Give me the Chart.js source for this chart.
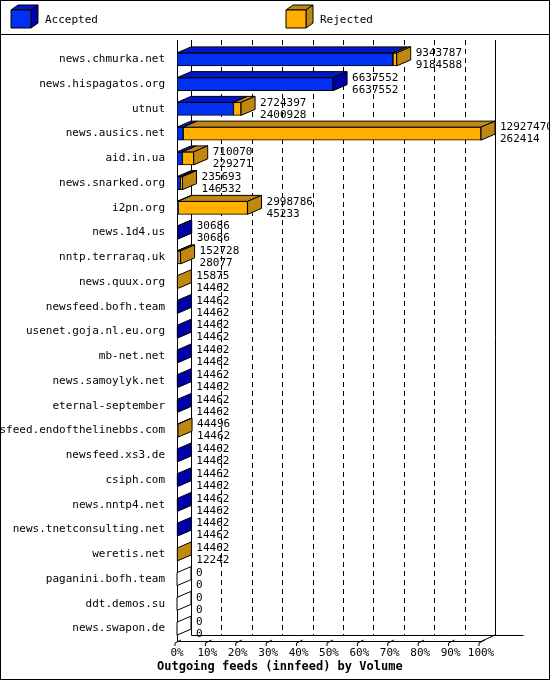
<!DOCTYPE html>
<html>
<head>
<meta charset="utf-8">
<script src="https://cdn.jsdelivr.net/npm/chart.js@4"></script>
<style>
  body { margin: 0; background: #fff; }
  canvas { display: block; }
</style>
</head>
<body>
<canvas id="feeds" width="550" height="680"></canvas>
<script>
// данные: получатели, предложено всего, принято
var Hosts = ['news.chmurka.net', 'news.hispagatos.org', 'utnut', 'news.ausics.net', 'aid.in.ua',
  'news.snarked.org', 'i2pn.org', 'news.1d4.us', 'nntp.terraraq.uk', 'news.quux.org',
  'newsfeed.bofh.team', 'usenet.goja.nl.eu.org', 'mb-net.net', 'news.samoylyk.net',
  'eternal-september', 'newsfeed.endofthelinebbs.com', 'newsfeed.xs3.de', 'csiph.com',
  'news.nntp4.net', 'news.tnetconsulting.net', 'weretis.net', 'paganini.bofh.team',
  'ddt.demos.su', 'news.swapon.de'];
var Offered = [9343787, 6637552, 2724397, 12927470, 710070, 235693, 2998786, 30686, 152728, 15875,
  14462, 14462, 14462, 14462, 14462, 44496, 14462, 14462, 14462, 14462, 14462, 0, 0, 0];
var Accepted = [9184588, 6637552, 2400928, 262414, 229271, 146532, 45233, 30686, 28077, 14462,
  14462, 14462, 14462, 14462, 14462, 14462, 14462, 14462, 14462, 14462, 12242, 0, 0, 0];
var Rejected = Offered.map(function (v, i) { return v - Accepted[i]; });
var Percents = [0, 10, 20, 30, 40, 50, 60, 70, 80, 90, 100];
var MaxValue = 12927470;

var DX = 14, DY = -6;        // смещение глубины для псевдо-3D
var BackDX = 14, BackDY = -6;
var Font = '11px "DejaVu Sans Mono", monospace';

function face(ctx, pts, fill) {
  ctx.beginPath();
  ctx.moveTo(pts[0][0], pts[0][1]);
  for (var k = 1; k < pts.length; k++) ctx.lineTo(pts[k][0], pts[k][1]);
  ctx.closePath();
  ctx.fillStyle = fill;
  ctx.fill();
  ctx.strokeStyle = '#000';
  ctx.lineWidth = 1;
  ctx.stroke();
}

var frame3d = {
  id: 'frame3d',
  beforeDraw: function (chart) {
    var ctx = chart.ctx;
    ctx.save();
    ctx.fillStyle = '#fff';
    ctx.fillRect(0, 0, 550, 680);
    ctx.strokeStyle = '#000';
    ctx.lineWidth = 1;
    ctx.strokeRect(0.5, 0.5, 549, 679);
    ctx.beginPath(); ctx.moveTo(0, 34.5); ctx.lineTo(550, 34.5); ctx.stroke();
    // легенда
    face(ctx, [[11, 10], [31, 10], [38, 5], [18, 5]], '#0018c8');
    face(ctx, [[31, 10], [38, 5], [38, 23], [31, 28]], '#0000a8');
    face(ctx, [[11, 10], [31, 10], [31, 28], [11, 28]], '#0030f0');
    face(ctx, [[286, 10], [306, 10], [313, 5], [293, 5]], '#c08810');
    face(ctx, [[306, 10], [313, 5], [313, 23], [306, 28]], '#c08810');
    face(ctx, [[286, 10], [306, 10], [306, 28], [286, 28]], '#ffb000');
    ctx.fillStyle = '#000';
    ctx.font = Font;
    ctx.textBaseline = 'middle';
    ctx.fillText('Accepted', 45, 20);
    ctx.fillText('Rejected', 320, 20);
    ctx.font = 'bold 12px "DejaVu Sans Mono", monospace';
    ctx.fillText('Outgoing feeds (innfeed) by Volume', 157, 667);
    ctx.restore();
  },
  beforeDatasetsDraw: function (chart) {
    var ctx = chart.ctx, a = chart.chartArea, xs = chart.scales.x;
    ctx.save();
    ctx.strokeStyle = '#000';
    ctx.lineWidth = 1;
    var top = 40;
    // задняя стенка и сетка
    ctx.setLineDash([5, 4]);
    Percents.forEach(function (p) {
      if (p === 0 || p === 100) return;
      var x = Math.round(xs.getPixelForValue(MaxValue * p / 100) + BackDX) + 0.5;
      ctx.beginPath(); ctx.moveTo(x, top); ctx.lineTo(x, a.bottom + BackDY); ctx.stroke();
    });
    ctx.setLineDash([]);
    var bl = Math.round(a.left + BackDX) + 0.5, br = Math.round(a.right + BackDX) + 0.5;
    var bb = Math.round(a.bottom + BackDY) + 0.5;
    ctx.beginPath();
    ctx.moveTo(bl, top); ctx.lineTo(bl, bb); ctx.lineTo(br + 28, bb);
    ctx.moveTo(br, top); ctx.lineTo(br, bb);
    ctx.moveTo(Math.round(a.left) + 0.5, top); ctx.lineTo(Math.round(a.left) + 0.5, a.bottom);
    ctx.moveTo(a.left, Math.round(a.bottom) + 0.5); ctx.lineTo(a.right, Math.round(a.bottom) + 0.5);
    ctx.lineTo(a.right + BackDX, a.bottom + BackDY);
    ctx.stroke();
    // подписи оси X и засечки
    ctx.fillStyle = '#000';
    ctx.font = Font;
    ctx.textAlign = 'center';
    ctx.textBaseline = 'middle';
    Percents.forEach(function (p) {
      var x = xs.getPixelForValue(MaxValue * p / 100);
      ctx.beginPath();
      ctx.moveTo(x - 2, a.bottom + 5); ctx.lineTo(x - 2, a.bottom + 2); ctx.lineTo(x + 4, a.bottom - 1);
      ctx.stroke();
      ctx.fillText(p + '%', x, a.bottom + 12);
    });
    ctx.restore();
  },
  afterDatasetsDraw: function (chart) {
    var ctx = chart.ctx;
    var acc = chart.getDatasetMeta(0).data, rej = chart.getDatasetMeta(1).data;
    ctx.save();
    for (var i = 0; i < Hosts.length; i++) {
      var b0 = acc[i], b1 = rej[i];
      var h = b0.height, yt = b0.y - h / 2, yb = b0.y + h / 2;
      var x0 = b0.base, x1 = b0.x, x2 = b1.x;
      if (x1 > x0 + 0.5) face(ctx, [[x0, yt], [x1, yt], [x1 + DX, yt + DY], [x0 + DX, yt + DY]], '#0018c8');
      if (x2 > x1 + 0.5) face(ctx, [[x1, yt], [x2, yt], [x2 + DX, yt + DY], [x1 + DX, yt + DY]], '#c08810');
      var end = Math.max(x1, x2);
      var sideCol = Offered[i] === 0 ? '#fff' : (Rejected[i] > 0 ? '#c08810' : '#0000a8');
      face(ctx, [[end, yt], [end + DX, yt + DY], [end + DX, yb + DY], [end, yb]], sideCol);
      ctx.fillStyle = '#000';
      ctx.font = Font;
      ctx.textBaseline = 'middle';
      ctx.fillText(String(Offered[i]), end + DX + 5, b0.y - 6);
      ctx.fillText(String(Accepted[i]), end + DX + 5, b0.y + 6);
    }
    ctx.restore();
  }
};

var FeedChart = new Chart(document.getElementById('feeds'), {
  type: 'bar',
  data: {
    labels: Hosts,
    datasets: [
      { label: 'Accepted', data: Accepted, backgroundColor: '#0030f0', borderColor: '#000', borderWidth: 1, borderSkipped: false, barThickness: 13 },
      { label: 'Rejected', data: Rejected, backgroundColor: '#ffb000', borderColor: '#000', borderWidth: 1, borderSkipped: false, barThickness: 13 }
    ]
  },
  options: {
    indexAxis: 'y',
    responsive: false,
    animation: false,
    devicePixelRatio: 1,
    layout: { padding: { left: 0, right: 69, top: 47, bottom: 39 } },
    plugins: { legend: { display: false }, tooltip: { enabled: false } },
    scales: {
      x: { display: false, stacked: true, min: 0, max: MaxValue },
      y: {
        stacked: true,
        grid: { display: false },
        border: { display: false },
        ticks: { color: '#000', font: { family: '"DejaVu Sans Mono", monospace', size: 11 }, padding: 4, autoSkip: false },
        afterFit: function (scale) { scale.width = 177; }
      }
    }
  },
  plugins: [frame3d]
});
</script>
</body>
</html>
